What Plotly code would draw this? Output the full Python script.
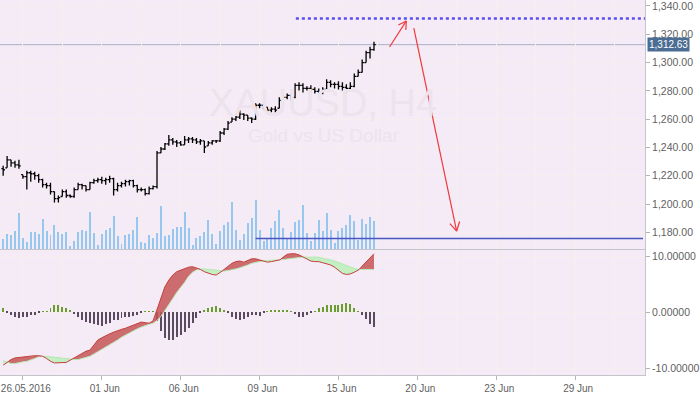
import plotly.graph_objects as go

# ---------------- data ----------------
bar_index = list(range(95))

opens = [1225.0, 1225.6, 1231.2, 1229.1, 1227.7, 1220.7, 1219.3, 1222.1, 1221.4, 1220.0,
         1217.2, 1213.7, 1213.0, 1208.8, 1203.8, 1205.3, 1208.8, 1206.0, 1205.3, 1210.2,
         1213.7, 1213.0, 1210.2, 1215.1, 1216.5, 1217.2, 1216.5, 1217.2, 1217.9, 1210.2,
         1213.0, 1214.4, 1215.8, 1216.5, 1213.0, 1210.2, 1210.2, 1207.4, 1210.9, 1212.3,
         1236.1, 1238.9, 1242.5, 1245.3, 1243.9, 1243.2, 1241.8, 1245.3, 1246.0, 1245.3,
         1243.9, 1244.6, 1241.1, 1243.2, 1244.6, 1244.6, 1250.2, 1253.0, 1257.9, 1260.0,
         1261.4, 1263.5, 1262.8, 1260.7, 1260.0, 1269.8, 1269.8, 1268.4, 1266.3, 1267.0,
         1267.7, 1273.3, 1275.4, 1276.8, 1275.4, 1283.9, 1283.9, 1281.7, 1281.7, 1281.0,
         1279.6, 1278.9, 1281.0, 1286.0, 1284.6, 1284.6, 1283.2, 1282.5, 1281.7, 1283.2,
         1290.2, 1293.0, 1300.0, 1307.0, 1309.1]
highs = [1227.0, 1234.0, 1231.2, 1230.5, 1231.2, 1220.7, 1223.5, 1223.5, 1222.8, 1221.4,
         1217.9, 1215.1, 1215.1, 1208.8, 1206.0, 1210.2, 1210.2, 1206.7, 1211.6, 1215.1,
         1214.4, 1213.0, 1215.8, 1217.9, 1218.6, 1219.3, 1218.6, 1220.0, 1218.6, 1215.1,
         1215.8, 1217.2, 1217.2, 1217.2, 1213.7, 1211.6, 1210.9, 1212.3, 1213.0, 1237.5,
         1240.3, 1243.2, 1248.8, 1246.7, 1245.3, 1244.6, 1248.1, 1247.4, 1247.4, 1246.7,
         1246.0, 1244.6, 1244.6, 1245.3, 1245.3, 1251.6, 1253.7, 1258.6, 1261.4, 1262.8,
         1266.3, 1264.2, 1262.8, 1261.4, 1271.2, 1271.2, 1270.5, 1268.4, 1268.4, 1269.1,
         1275.4, 1276.8, 1278.2, 1276.8, 1285.3, 1286.0, 1285.3, 1283.2, 1283.9, 1282.5,
         1281.7, 1282.5, 1288.1, 1287.4, 1286.0, 1286.7, 1286.0, 1284.6, 1286.0, 1292.3,
         1295.1, 1302.1, 1308.4, 1311.2, 1314.7]
lows = [1220.0, 1225.6, 1226.3, 1225.6, 1224.9, 1217.9, 1210.2, 1215.8, 1217.2, 1215.1,
        1211.6, 1210.9, 1206.7, 1201.0, 1201.0, 1205.3, 1204.5, 1204.5, 1204.5, 1210.2,
        1210.2, 1208.8, 1210.2, 1214.4, 1215.1, 1214.4, 1213.7, 1215.1, 1206.0, 1208.8,
        1211.6, 1212.3, 1213.0, 1211.6, 1208.1, 1208.8, 1206.0, 1206.7, 1210.2, 1210.9,
        1236.1, 1238.2, 1241.1, 1241.8, 1240.3, 1241.1, 1241.8, 1243.2, 1243.2, 1242.5,
        1241.8, 1236.1, 1241.1, 1241.8, 1243.2, 1243.9, 1248.8, 1252.3, 1257.9, 1258.6,
        1260.0, 1259.3, 1258.6, 1257.2, 1259.3, 1267.7, 1267.0, 1264.9, 1264.9, 1264.9,
        1267.7, 1271.9, 1274.0, 1273.3, 1274.7, 1280.3, 1278.9, 1280.3, 1279.6, 1278.2,
        1276.1, 1277.5, 1281.0, 1282.5, 1281.7, 1281.0, 1280.3, 1278.9, 1280.3, 1282.5,
        1290.2, 1293.0, 1300.0, 1302.8, 1308.4]
closes = [1224.2, 1231.2, 1229.1, 1227.7, 1227.0, 1219.3, 1222.1, 1221.4, 1220.0, 1217.2,
          1213.7, 1213.0, 1208.8, 1203.8, 1204.5, 1208.8, 1206.0, 1205.3, 1210.2, 1213.7,
          1213.0, 1210.2, 1215.1, 1216.5, 1217.2, 1216.5, 1217.2, 1217.9, 1210.2, 1213.0,
          1214.4, 1215.8, 1216.5, 1213.0, 1210.2, 1210.2, 1207.4, 1210.9, 1212.3, 1236.1,
          1238.9, 1242.5, 1245.3, 1243.9, 1243.2, 1241.8, 1245.3, 1246.0, 1245.3, 1243.9,
          1244.6, 1240.3, 1243.2, 1244.6, 1244.6, 1250.2, 1253.0, 1257.2, 1260.0, 1261.4,
          1263.5, 1262.8, 1260.7, 1260.0, 1269.8, 1269.8, 1268.4, 1266.3, 1267.0, 1266.3,
          1273.3, 1275.4, 1276.8, 1275.4, 1283.9, 1283.9, 1281.7, 1281.7, 1281.0, 1279.6,
          1278.9, 1281.0, 1286.0, 1284.6, 1284.6, 1283.2, 1282.5, 1281.7, 1283.2, 1290.2,
          1293.0, 1300.0, 1307.0, 1309.1, 1312.63]
volumes = [1000, 1500, 1400, 1800, 3600, 1100, 700, 1700, 1700, 1500,
           3000, 1800, 1400, 2400, 1700, 1500, 1700, 300, 800, 1700,
           1900, 1800, 3700, 1600, 400, 1500, 1900, 2100, 3300, 1300,
           500, 1400, 1500, 1900, 3200, 700, 600, 1400, 1100, 1600,
           4300, 1300, 1400, 2000, 2200, 2200, 3700, 2100, 400, 1100,
           1300, 1700, 2900, 1500, 500, 1800, 2400, 2700, 4700, 1900,
           900, 1500, 2600, 3100, 4900, 1900, 800, 1100, 2100, 2800,
           3900, 2100, 1100, 1700, 2700, 2900, 4400, 1600, 800, 1600,
           2900, 1800, 3600, 1900, 600, 1800, 2100, 2400, 3400, 2800,
           900, 3000, 2500, 3200, 2800]
macd_main = [-9.5, -9.0, -8.5, -8.2, -8.1, -8.1, -8.0, -7.9, -7.8, -7.8,
             -7.9, -8.3, -8.8, -9.1, -9.1, -9.1, -9.0, -8.6, -8.2, -7.8,
             -7.4, -7.0, -6.8, -5.8, -5.0, -4.6, -4.2, -3.9, -3.6, -3.3,
             -3.1, -2.9, -2.6, -2.3, -2.0, -1.8, -1.9, -2.0, -1.6, 0.5,
             2.5, 4.5, 5.7, 6.6, 7.2, 7.5, 7.8, 8.0, 8.1, 7.9,
             7.6, 7.2, 6.9, 6.7, 6.6, 7.0, 7.6, 8.2, 8.7, 9.0,
             9.1, 8.9, 9.2, 9.5, 9.5, 9.3, 9.0, 8.9, 9.0, 9.1,
             9.2, 9.8, 10.3, 10.4, 10.4, 10.2, 9.8, 9.4, 9.1, 9.0,
             9.0, 8.8, 8.6, 8.4, 8.0, 7.4, 6.9, 6.7, 6.8, 7.1,
             7.4, 8.2, 9.0, 9.8, 10.4]
macd_signal = [-8.7, -9.0, -9.2, -9.2, -9.0, -8.9, -8.8, -8.6, -8.3, -8.0,
               -7.9, -7.9, -8.0, -8.1, -8.2, -8.3, -8.4, -8.5, -8.5, -8.5,
               -8.3, -8.1, -7.9, -7.5, -7.1, -6.7, -6.3, -5.9, -5.5, -5.0,
               -4.5, -4.1, -3.7, -3.3, -3.0, -2.7, -2.4, -2.2, -2.0, -1.5,
               -0.8, 0.2, 1.3, 2.4, 3.5, 4.3, 5.3, 6.4, 7.1, 7.5,
               7.7, 7.7, 7.6, 7.5, 7.4, 7.3, 7.3, 7.4, 7.5, 7.7,
               7.9, 8.1, 8.4, 8.7, 8.9, 9.0, 9.1, 9.2, 9.2, 9.3,
               9.3, 9.4, 9.5, 9.6, 9.7, 9.8, 9.8, 9.8, 9.8, 9.8,
               9.8, 9.6, 9.5, 9.3, 9.1, 8.9, 8.6, 8.3, 8.0, 7.8,
               7.6, 7.6, 7.6, 7.6, 7.6]
macd_hist = [0.7, -0.24, -0.55, -0.97, -1.15, -0.97, -0.85, -0.55, -0.48, -0.24,
             0.1, 0.1, 0.67, 1.3, 1.3, 0.85, 0.73, 0.24, -0.36, -0.97,
             -1.45, -1.76, -1.88, -2.18, -2.36, -2.42, -2.18, -2.0, -1.45, -1.39,
             -1.09, -0.97, -0.85, -0.67, -0.48, -0.24, 0.05, 0.05, 0.05, -1.6,
             -3.35, -4.6, -5.0, -5.0, -4.5, -4.1, -3.5, -2.8, -1.95, -1.05,
             -0.24, 0.42, 0.67, 0.97, 1.03, 0.67, 0.3, -0.24, -0.85, -1.27,
             -1.39, -1.27, -0.85, -0.48, -0.48, -0.67, -0.24, 0.03, 0.3, 0.36,
             0.36, 0.3, 0.18, 0.03, -0.36, -0.85, -0.85, -0.55, -0.24, 0.06,
             0.67, 0.97, 1.27, 1.33, 1.27, 1.33, 1.45, 1.58, 1.45, 0.67,
             0.12, -0.48, -1.27, -2.18, -2.67]

tick_bars = [5, 25, 45, 65, 85, 105, 125, 145]
tick_labels = ["26.05.2016", "01 Jun", "06 Jun", "09 Jun", "15 Jun", "20 Jun", "23 Jun", "29 Jun"]
price_ticks = [1180, 1200, 1220, 1240, 1260, 1280, 1300, 1320, 1340]
macd_ticks = [-10, 0, 10]
macd_tick_labels = ["-10.00000", "0.00000", "10.00000"]

last_price = 1312.63
resistance_level = 1331.2
resistance_start = 74.2
support_level = 1175.6
support_start = 64.0
support_end = 162.2
# drawn arrows: (tail bar, tail price, head bar, head price)
arrow_up = [97.95, 1311.0, 102.2, 1329.4]
arrow_down = [104.1, 1324.4, 114.95, 1180.9]

# ---------------- styling ----------------
BG = "#f5ebf6"
GRID = "#f7efee"
AXC = "#c4c4cc"
TXT = "#5f5f5f"
FONT = "Liberation Sans, Arial, sans-serif"
X_RANGE = [-0.8, 162.7]

fig = go.Figure()

# volume (hidden overlay axis in price panel)
fig.add_trace(go.Bar(x=bar_index, y=volumes, xaxis="x2", yaxis="y",
                     marker=dict(color="#96c7ef", line=dict(width=0)), width=0.25,
                     hoverinfo="skip"))
# price bars
fig.add_trace(go.Ohlc(x=bar_index, open=opens, high=highs, low=lows, close=closes,
                      xaxis="x2", yaxis="y2", tickwidth=0.45,
                      increasing=dict(line=dict(color="#000000", width=1.3)),
                      decreasing=dict(line=dict(color="#000000", width=1.3))))


# MACD band fill, split at crossings
def split_at_crossings(xv, a, b):
    xs, aa, bb = [], [], []
    for k in range(len(xv)):
        if k > 0:
            d0 = a[k - 1] - b[k - 1]
            d1 = a[k] - b[k]
            if d0 * d1 < 0:
                t = d0 / (d0 - d1)
                xc = xv[k - 1] + t * (xv[k] - xv[k - 1])
                yc = a[k - 1] + t * (a[k] - a[k - 1])
                xs.append(xc); aa.append(yc); bb.append(yc)
        xs.append(xv[k]); aa.append(a[k]); bb.append(b[k])
    return xs, aa, bb


fx, fmain, fsig = split_at_crossings(bar_index, macd_main, macd_signal)
fupper = [max(p, q) for p, q in zip(fmain, fsig)]

fig.add_trace(go.Bar(x=bar_index, y=macd_hist, xaxis="x", yaxis="y3", width=0.25,
                     marker=dict(color=["#6b9c2e" if v > 0 else "#5c4b60" for v in macd_hist],
                                 line=dict(width=0)), hoverinfo="skip"))
fig.add_trace(go.Scatter(x=fx, y=fsig, xaxis="x", yaxis="y3", mode="lines",
                         line=dict(width=0), hoverinfo="skip"))
fig.add_trace(go.Scatter(x=fx, y=fupper, xaxis="x", yaxis="y3", mode="lines",
                         line=dict(width=0), fill="tonexty",
                         fillcolor="rgba(196,86,86,0.85)", hoverinfo="skip"))
fig.add_trace(go.Scatter(x=fx, y=fmain, xaxis="x", yaxis="y3", mode="lines",
                         line=dict(width=0), hoverinfo="skip"))
fig.add_trace(go.Scatter(x=fx, y=fupper, xaxis="x", yaxis="y3", mode="lines",
                         line=dict(width=0), fill="tonexty",
                         fillcolor="rgba(190,240,190,0.9)", hoverinfo="skip"))
fig.add_trace(go.Scatter(x=fx, y=fsig, xaxis="x", yaxis="y3", mode="lines",
                         line=dict(color="#b6e8b4", width=1), hoverinfo="skip"))
fig.add_trace(go.Scatter(x=fx, y=fmain, xaxis="x", yaxis="y3", mode="lines",
                         line=dict(color="#c4403c", width=1), hoverinfo="skip"))

shapes = [
    dict(type="line", xref="paper", x0=0, x1=1, yref="y2", y0=last_price, y1=last_price,
         line=dict(color="#a9b0c6", width=1), layer="below"),
    dict(type="line", xref="x2", x0=resistance_start, x1=X_RANGE[1], yref="y2",
         y0=resistance_level, y1=resistance_level,
         line=dict(color="#5a4ef0", width=2.5, dash="dot")),
    dict(type="line", xref="x2", x0=support_start, x1=support_end, yref="y2",
         y0=support_level, y1=support_level, line=dict(color="#4a55c4", width=1.5)),
]
RED = "#f0383c"
for arr, wings in ((arrow_up, [(-8, -4), (-0.5, -9)]),
                   (arrow_down, [(3, 9.5), (-6.7, 7.4)])):
    shapes.append(dict(type="line", xref="x2", yref="y2", x0=arr[0], y0=arr[1],
                       x1=arr[2], y1=arr[3], line=dict(color=RED, width=1.2)))
    for wx, wy in wings:
        shapes.append(dict(type="line", xref="x2", yref="y2",
                           xsizemode="pixel", ysizemode="pixel",
                           xanchor=arr[2], yanchor=arr[3],
                           x0=0, y0=0, x1=wx, y1=wy,
                           line=dict(color=RED, width=1.2)))

annotations = [
    dict(text="XAUUSD, H4", xref="paper", yref="paper", x=0.5, y=0.725,
         xanchor="center", yanchor="middle",
         showarrow=False, font=dict(family=FONT, size=38, color="#ece3ec")),
    dict(text="Gold vs US Dollar", xref="paper", yref="paper", x=0.502, y=0.64,
         xanchor="center", yanchor="middle",
         showarrow=False, font=dict(family=FONT, size=19, color="#ece3ec")),
    dict(text="1,312.63", xref="paper", x=1, xanchor="left", xshift=2,
         yref="y2", y=last_price, yanchor="middle", showarrow=False, bgcolor="#4b6d93",
         borderpad=1, font=dict(family=FONT, size=10, color="#ffffff")),
]

xcommon = dict(range=X_RANGE, showgrid=True, gridcolor=GRID, gridwidth=1, zeroline=False,
               minor=dict(tick0=5, dtick=10, showgrid=True, gridcolor=GRID, ticks=""),
               showline=True, linecolor=AXC, linewidth=1, rangeslider=dict(visible=False))
ycommon = dict(tickmode="array", ticks="outside", ticklen=4, tickcolor="#b4b4b8",
               showline=True, linecolor=AXC, showgrid=True, gridcolor=GRID,
               zeroline=False, ticklabeloverflow="allow",
               tickfont=dict(family=FONT, size=10.5, color=TXT))

fig.update_layout(
    width=700, height=394, margin=dict(l=0, r=46, t=0, b=19),
    paper_bgcolor="white", plot_bgcolor=BG, showlegend=False, bargap=0,
    xaxis=dict(domain=[0, 1], anchor="y3", tickmode="array", tickvals=tick_bars,
               ticktext=tick_labels, ticks="outside", ticklen=4, tickcolor="#b4b4b8",
               ticklabelshift=3, ticklabeloverflow="allow",
               tickfont=dict(family=FONT, size=10, color=TXT), **xcommon),
    xaxis2=dict(domain=[0, 1], anchor="y2", matches="x", showticklabels=False,
                tickmode="array", tickvals=tick_bars, ticks="", **xcommon),
    yaxis=dict(domain=[0.336, 1], anchor="x2", range=[0, 24900], visible=False,
               fixedrange=True),
    yaxis2=dict(overlaying="y", anchor="x2", side="right", range=[1168.2, 1344.2],
                tickvals=price_ticks, tickformat=",.2f", **ycommon),
    yaxis3=dict(domain=[0, 0.3333], anchor="x", side="right", range=[-11.25, 11.07],
                tickvals=macd_ticks, ticktext=macd_tick_labels, **ycommon),
    shapes=shapes,
    annotations=annotations,
)

fig.write_html("out.html", config={"displayModeBar": False},
               post_script="document.body.style.margin='0';document.body.style.overflow='hidden';")
